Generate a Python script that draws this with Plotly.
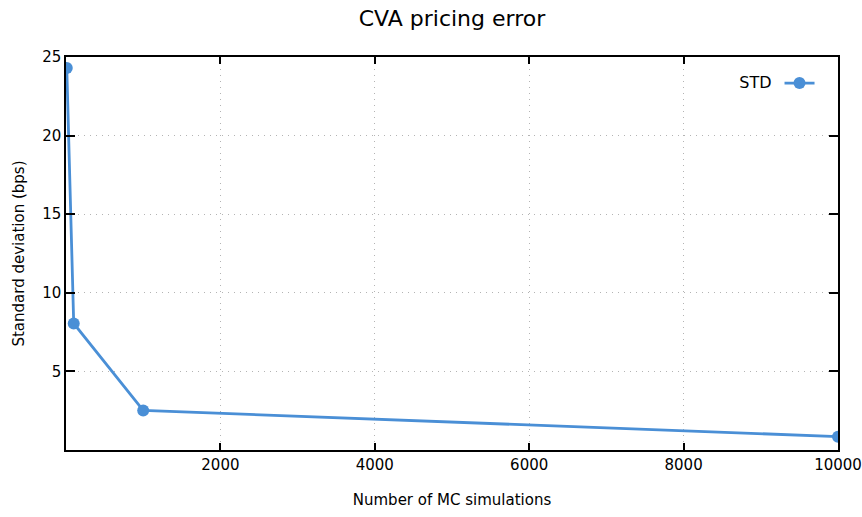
import plotly.graph_objects as go

# Data
simulations = [10, 100, 1000, 10000]
std_bps = [24.3, 8.05, 2.52, 0.85]
x_ticks = [2000, 4000, 6000, 8000, 10000]
x_tick_labels = ["2000", "4000", "6000", "8000", "10000"]
y_ticks = [5, 10, 15, 20, 25]
y_tick_labels = ["5", "10", "15", "20", "25"]

FONT = "DejaVu Sans"
BLUE = "#4a8fd6"

fig = go.Figure()
fig.add_trace(go.Scatter(
    x=simulations, y=std_bps, mode="lines+markers", name=" ",
    line=dict(color=BLUE, width=2.8),
    marker=dict(color=BLUE, size=12),
))

axis_common = dict(
    showline=True, linecolor="black", linewidth=1.5, mirror="ticks",
    ticks="inside", tickcolor="black", tickwidth=1.5,
    showgrid=True, gridcolor="#b4b4b4", griddash="1px,5px", gridwidth=1.2,
    zeroline=False, tickfont=dict(family=FONT, size=15, color="black"),
    automargin=False,
)

fig.update_xaxes(range=[0, 10000], tickvals=x_ticks, ticktext=x_tick_labels, ticklen=7,
                 title=dict(text="Number of MC simulations", standoff=22,
                            font=dict(family=FONT, size=15, color="black")),
                 **axis_common)
fig.update_yaxes(range=[0, 25], tickvals=y_ticks, ticktext=y_tick_labels, ticklen=9,
                 title=dict(text="Standard deviation (bps)", standoff=14,
                            font=dict(family=FONT, size=15, color="black")),
                 **axis_common)

fig.update_layout(
    width=862, height=517,
    margin=dict(l=66, r=24, t=57, b=67),
    plot_bgcolor="white", paper_bgcolor="white",
    font=dict(family=FONT, color="black"),
    title=dict(text="CVA pricing error", xref="paper", x=0.5, xanchor="center",
               y=0.965, yanchor="middle",
               font=dict(family=FONT, size=22, color="black")),
    showlegend=True,
    legend=dict(x=0.99, y=0.975, xanchor="right", yanchor="top",
                bgcolor="rgba(0,0,0,0)",
                title=dict(text="STD", side="left", font=dict(family=FONT, size=16, color="black")),
                font=dict(family=FONT, size=15), itemwidth=30),
)

fig.write_html("out.html")
